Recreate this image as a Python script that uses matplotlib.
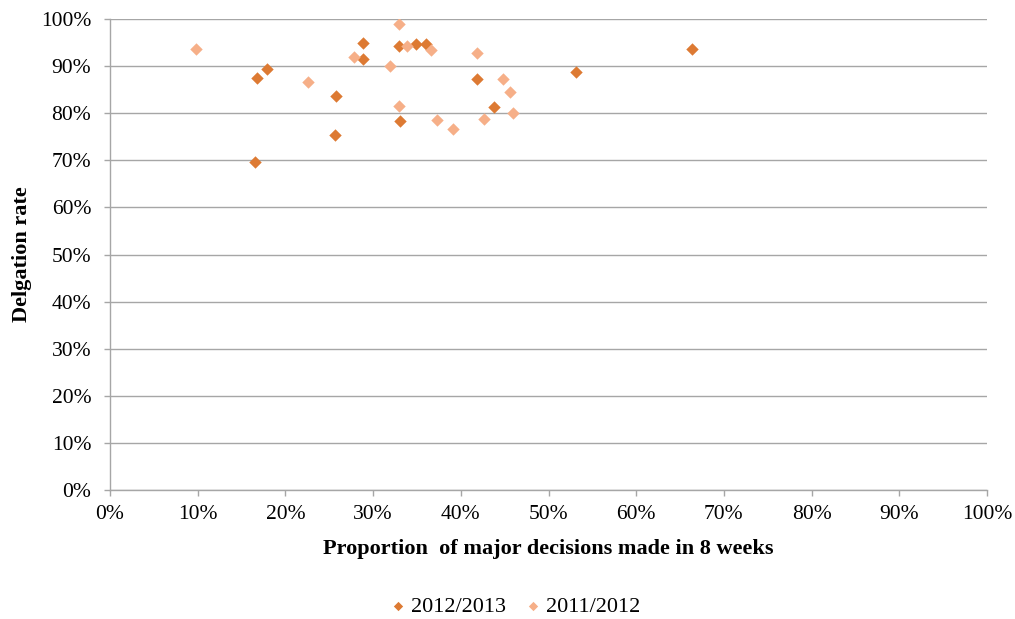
import matplotlib.pyplot as plt
from matplotlib.ticker import PercentFormatter

# proportion of major decisions made in 8 weeks (%) vs delegation rate (%)
x_1213 = [28.8, 28.8, 17.9, 16.8, 25.8, 25.6, 16.5, 32.9, 34.9, 36.0,
          41.8, 43.8, 33.1, 53.1, 66.4]
y_1213 = [95.0, 91.6, 89.3, 87.5, 83.6, 75.4, 69.7, 94.3, 94.7, 94.7,
          87.2, 81.3, 78.4, 88.7, 93.7]

x_1112 = [9.8, 27.8, 22.6, 32.9, 33.9, 36.6, 41.8, 31.9, 44.8, 45.6,
          32.9, 37.3, 42.7, 45.9, 39.1]
y_1112 = [93.7, 91.9, 86.6, 98.9, 94.3, 93.5, 92.8, 90.0, 87.2, 84.6,
          81.5, 78.6, 78.8, 80.0, 76.6]

series_labels = ['2012/2013', '2011/2012']
dark = '#DD7A33'
light = '#F6AF88'
grid_col = '#A6A6A6'

plt.rcParams['font.family'] = ['Liberation Serif', 'DejaVu Serif']

fig = plt.figure(figsize=(10.15, 6.19), dpi=100)
ax = fig.add_axes([0.1084, 0.2084, 0.864, 0.7609])

ax.scatter(x_1213, y_1213, marker='D', s=40, color=dark, linewidths=0,
           label=series_labels[0], zorder=3)
ax.scatter(x_1112, y_1112, marker='D', s=40, color=light, linewidths=0,
           label=series_labels[1], zorder=3)

ax.set_xlim(0, 100)
ax.set_ylim(0, 100)
ax.set_xticks(range(0, 101, 10))
ax.set_yticks(range(0, 101, 10))
ax.xaxis.set_major_formatter(PercentFormatter(decimals=0))
ax.yaxis.set_major_formatter(PercentFormatter(decimals=0))
ax.tick_params(labelsize=15.5, length=4.5, width=1, direction='out',
               color=grid_col, labelcolor='black')
ax.tick_params(axis='y', pad=9)
ax.tick_params(axis='x', pad=6)

ax.yaxis.grid(True, color=grid_col, linewidth=1)
ax.set_axisbelow(True)
for side in ['top', 'right']:
    ax.spines[side].set_visible(False)
for side in ['left', 'bottom']:
    ax.spines[side].set_color(grid_col)
    ax.spines[side].set_linewidth(1)

ax.set_xlabel('Proportion  of major decisions made in 8 weeks',
              fontsize=16, fontweight='bold')
ax.xaxis.set_label_coords(0.5, -0.125)
ax.xaxis.label.set_verticalalignment('center')
ax.set_ylabel('Delgation rate', fontsize=16, fontweight='bold')
ax.yaxis.set_label_coords(-0.1, 0.5)
ax.yaxis.label.set_verticalalignment('center')

fig.legend(loc='center', bbox_to_anchor=(0.505, 0.0194), ncol=2,
           frameon=False, fontsize=16, markerscale=0.75,
           handletextpad=0.0, columnspacing=0.6, handlelength=1.2)

fig.savefig('out.png', dpi=100)
